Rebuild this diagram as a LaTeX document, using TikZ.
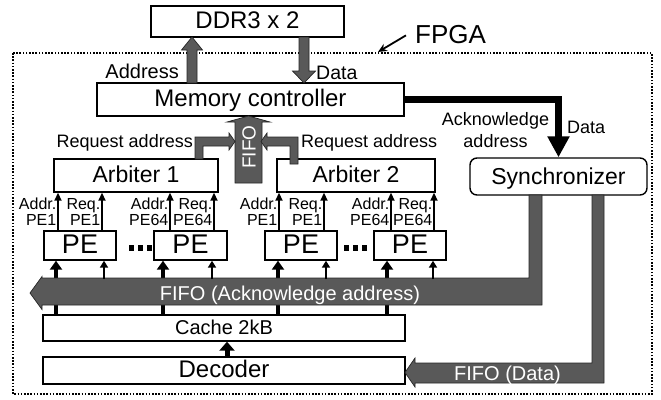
\documentclass[tikz,border=0pt]{standalone}
\usepackage{fontspec}
\setmainfont{Liberation Sans}
\usetikzlibrary{arrows.meta,calc}
\definecolor{bgray}{RGB}{89,89,89}
\newcommand\fsz[1]{\fontsize{#1}{#1}\selectfont}
\begin{document}
\begin{tikzpicture}[x=1pt,y=-1pt,
  box/.style={draw=black, line width=1.4pt, fill=white, inner sep=0pt},
  f24/.style={font=\fsz{24}, text height=17.2pt, text depth=2.9pt},
  f23/.style={font=\fsz{23}, text height=16.5pt, text depth=2.2pt},
  f27/.style={font=\fsz{27}, text height=19.3pt, text depth=2.6pt},
  f20/.style={font=\fsz{20}, text height=14.3pt, text depth=2.2pt},
  blk/.style={fill=bgray, draw=black!85, line width=0.7pt, line join=miter},
  thinarr/.style={line width=1.8pt, -{Triangle[width=7pt,length=8pt]}},
  thickarr/.style={line width=4.5pt, -{Triangle[width=12pt,length=9pt]}},
  lbl/.style={inner sep=0pt, anchor=base east, font=\fsz{16}},
  txt/.style={inner sep=0pt},
]
\useasboundingbox (0,0) rectangle (661,399);
% FPGA border
\draw[line width=2pt, dash pattern=on 1.6pt off 1.6pt] (13,53) rectangle (652,394);

% boxes
\node[box, f24, minimum width=193pt, minimum height=31pt] (ddr) at (247.5,21.5) {DDR3 x 2};
\node[box, f24, minimum width=307pt, minimum height=33pt] (mc) at (250.5,99.5) {Memory controller};
\node[box, f23, minimum width=164pt, minimum height=33pt] (arb1) at (136,175.5) {Arbiter 1};
\node[box, f23, minimum width=158pt, minimum height=33pt] (arb2) at (356,175.5) {Arbiter 2};
\node[box, f23, rounded corners=7pt, minimum width=177pt, minimum height=37pt, text depth=0pt] (sync) at (558.5,176.5) {Synchronizer};
\node[box, f27, minimum width=72pt, minimum height=29pt] (pe1) at (80,245.5) {PE};
\node[box, f27, minimum width=73pt, minimum height=29pt] (pe2) at (190.5,245.5) {PE};
\node[box, f27, minimum width=72pt, minimum height=29pt] (pe3) at (301,245.5) {PE};
\node[box, f27, minimum width=72pt, minimum height=29pt] (pe4) at (410,245.5) {PE};
\node[box, f20, minimum width=362pt, minimum height=26pt] (cache) at (224,328) {Cache 2kB};
\node[box, f24, minimum width=362pt, minimum height=27pt] (dec) at (224,370.5) {Decoder};

% FPGA label
\node[txt, anchor=base west, font=\fsz{26}] (fpga) at (415,43.3) {FPGA};
\coordinate (fpgatip) at (378,52);
\draw[line width=1.8pt, -{Stealth[length=9pt,width=8pt]}] ([xshift=-9pt,yshift=-1pt]fpga.west) -- (fpgatip);

% DDR <-> memory controller
\draw[blk] (187,83) -- (187,50) -- (181.5,50) -- (192,37) -- (202.5,50) -- (197,50) -- (197,83) -- cycle;
\draw[blk] (299,37) -- (299,71) -- (292.5,71) -- (304,83) -- (315.5,71) -- (309,71) -- (309,37) -- cycle;
\node[txt, anchor=base east, font=\fsz{20}] (addrl) at (179,78) {Address};
\node[txt, anchor=base west, font=\fsz{19.5}] (datal) at (316,79) {Data};

% central FIFO
\draw[blk] (235,183) -- (235,122) -- (227,122) -- (248.5,116) -- (270,122) -- (262,122) -- (262,183) -- cycle;
\node[txt, rotate=90, text=white, font=\fsz{19}] (fifo) at (249,147) {FIFO};
\draw[blk] (195,159) -- (195,137) -- (229,137) -- (229,133) -- (235,141.5) -- (229,150) -- (229,146) -- (203,146) -- (203,159) -- cycle;
\draw[blk] (298,164) -- (298,137) -- (267,137) -- (267,133) -- (261,141.5) -- (267,150) -- (267,146) -- (290,146) -- (290,164) -- cycle;
\node[txt, anchor=base east, font=\fsz{18}] (req1) at (193,147) {Request address};
\node[txt, anchor=base west, font=\fsz{18}] (req2) at (301,147) {Request address};

% memory controller -> synchronizer
\draw[line width=7pt, line join=miter, -{Triangle[width=21pt,length=21pt]}] (mc.east) -- (mc.east -| sync.north) -- (sync.north);
\node[txt, anchor=base, font=\fsz{18}] (ack1) at (495.5,125.7) {Acknowledge};
\node[txt, anchor=base, font=\fsz{18}] (ack2) at (495.5,147.5) {address};
\node[txt, anchor=base west, font=\fsz{18}] (data2) at (567,133.3) {Data};

% PE -> arbiter arrows and labels
\foreach \p/\arb/\a/\b/\n in {pe1/arb1/58/102/PE1, pe2/arb1/170/214/PE64, pe3/arb2/279/324/PE1, pe4/arb2/391/434/PE64}{
  \draw[thinarr] (\a,0 |- \p.north) -- (\a,0 |- \arb.south);
  \draw[thinarr] (\b,0 |- \p.north) -- (\b,0 |- \arb.south);
  \node[lbl] at (\a-1.5,209) {Addr.};
  \node[lbl] at (\a-1.5,225) {\n};
  \node[lbl] at (\b-1.5,209) {Req.};
  \node[lbl] at (\b-1.5,225) {\n};
}
% ellipses between PEs
\foreach \x in {128.5,137.5,146.5,343.5,352.5,361.5}{
  \fill (\x,245) rectangle +(5.5,5.5);
}

% cache -> PE thick arrows (under the band)
\foreach \p/\x in {pe1/56, pe2/163, pe3/278, pe4/387}{
  \draw[thickarr] (\x,0 |- cache.north) -- (\x,0 |- \p.south);
}
% decoder -> cache
\draw[line width=5pt, -{Triangle[width=15pt,length=9pt]}] (227,0 |- dec.north) -- (227,0 |- cache.south);

% FIFO (Acknowledge address) band
\draw[blk] (529,195) -- (529,278) -- (42,278) -- (42,276.5) -- (30,293) -- (42,309.5) -- (42,305) -- (542,305) -- (542,195) -- cycle;
\node[txt, text=white, font=\fsz{20}, text height=14.3pt, text depth=0pt] (ackband) at (290,293.3) {FIFO (Acknowledge address)};
\coordinate (bandtop) at (0,279);
\foreach \p/\x in {pe1/104, pe2/212, pe3/326, pe4/433}{
  \draw[line width=2.2pt, -{Triangle[width=8pt,length=7pt]}] (\x,0 |- bandtop) -- (\x,0 |- \p.south);
}

% FIFO (Data) band
\draw[blk] (592,195) -- (592,363) -- (415,363) -- (415,358) -- (405,372.5) -- (415,387) -- (415,383) -- (604,383) -- (604,195) -- cycle;
\node[txt, text=white, font=\fsz{20}, text height=14.3pt, text depth=0pt] (databand) at (507.5,373.7) {FIFO (Data)};
\end{tikzpicture}
\end{document}
